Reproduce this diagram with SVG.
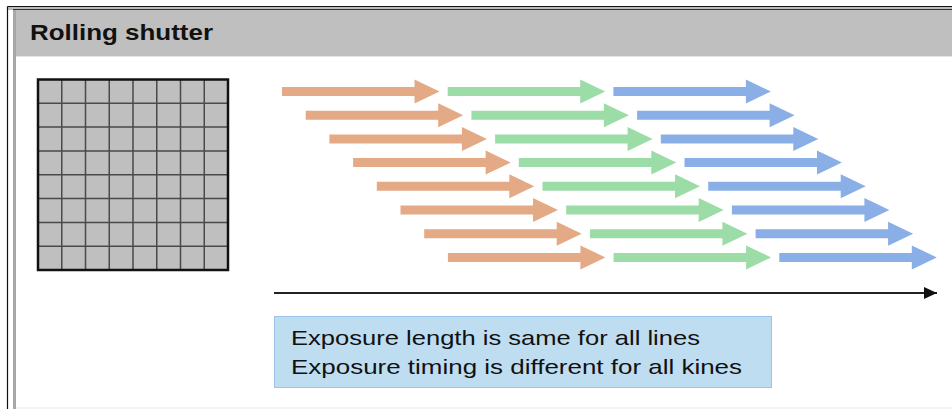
<svg xmlns="http://www.w3.org/2000/svg" width="952" height="409" viewBox="0 0 952 409">
<style>
.o{fill:#E4A985}.g{fill:#9CDCA6}.b{fill:#8AAEE6}
.t{font-family:"Liberation Sans",Arial,sans-serif;fill:#111}
</style>
<defs>
<path id="ar" d="M0,-4.5 H132.5 V-12 L157.5,0 L132.5,12 V4.5 H0 Z"/>
<marker id="ah" markerWidth="13" markerHeight="12" refX="13" refY="6" orient="auto" markerUnits="userSpaceOnUse"><path d="M0,0 L13,6 L0,12 Z" fill="#111"/></marker>
</defs>
<rect width="952" height="409" fill="#fff"/>
<g id="frame">
<rect x="8" y="7" width="944" height="3" fill="#bdbdbd"/>
<line x1="7.5" y1="6.5" x2="952" y2="6.5" stroke="#111" stroke-width="1.2"/>
<line x1="7.5" y1="6.5" x2="7.5" y2="409" stroke="#111" stroke-width="1.2"/>
<rect x="15" y="10" width="937" height="46" fill="#BFBFBF"/>
<line x1="13" y1="9.5" x2="952" y2="9.5" stroke="#333" stroke-width="1.2"/>
<rect x="13" y="10" width="3" height="399" fill="#A8A8A8"/>
<line x1="16" y1="56.5" x2="952" y2="56.5" stroke="#e4e4e4" stroke-width="1.2"/>
<line x1="16" y1="408" x2="952" y2="408" stroke="#e8e8e8" stroke-width="1.2"/>
<text class="t" x="30" y="39.5" font-size="22" font-weight="bold" textLength="183" lengthAdjust="spacingAndGlyphs">Rolling shutter</text>
</g>
<g id="sensor">
<rect x="38" y="79.5" width="190" height="190.5" fill="#BFBFBF"/>
<g stroke="#4a4a4a" stroke-width="1.5">
<path d="M61.75,79.5V270M85.5,79.5V270M109.25,79.5V270M133,79.5V270M156.75,79.5V270M180.5,79.5V270M204.25,79.5V270"/>
<path d="M38,103.3H228M38,127.1H228M38,150.9H228M38,174.8H228M38,198.6H228M38,222.4H228M38,246.2H228"/>
</g>
<rect x="38" y="79.5" width="190" height="190.5" fill="none" stroke="#111" stroke-width="2.5"/>
</g>
<g id="arrows">
<use href="#ar" class="o" x="282" y="91.5"/><use href="#ar" class="g" x="447.7" y="91.5"/><use href="#ar" class="b" x="613.4" y="91.5"/>
<use href="#ar" class="o" x="305.7" y="115.2"/><use href="#ar" class="g" x="471.4" y="115.2"/><use href="#ar" class="b" x="637.1" y="115.2"/>
<use href="#ar" class="o" x="329.4" y="138.9"/><use href="#ar" class="g" x="495.1" y="138.9"/><use href="#ar" class="b" x="660.8" y="138.9"/>
<use href="#ar" class="o" x="353.1" y="162.6"/><use href="#ar" class="g" x="518.8" y="162.6"/><use href="#ar" class="b" x="684.5" y="162.6"/>
<use href="#ar" class="o" x="376.8" y="186.3"/><use href="#ar" class="g" x="542.5" y="186.3"/><use href="#ar" class="b" x="708.2" y="186.3"/>
<use href="#ar" class="o" x="400.5" y="210"/><use href="#ar" class="g" x="566.2" y="210"/><use href="#ar" class="b" x="731.9" y="210"/>
<use href="#ar" class="o" x="424.2" y="233.7"/><use href="#ar" class="g" x="589.9" y="233.7"/><use href="#ar" class="b" x="755.6" y="233.7"/>
<use href="#ar" class="o" x="447.9" y="257.4"/><use href="#ar" class="g" x="613.6" y="257.4"/><use href="#ar" class="b" x="779.3" y="257.4"/>
</g>
<g id="connectors">
<line x1="274" y1="293" x2="937" y2="293" stroke="#222" stroke-width="2.2" marker-end="url(#ah)"/>
</g>
<g id="note">
<rect x="274.5" y="316.5" width="497" height="71" fill="#BFDDF1" stroke="#9CC3E8" stroke-width="1"/>
<text class="t" x="291" y="345" font-size="21" textLength="409" lengthAdjust="spacingAndGlyphs">Exposure length is same for all lines</text>
<text class="t" x="291" y="374" font-size="21" textLength="451" lengthAdjust="spacingAndGlyphs">Exposure timing is different for all kines</text>
</g>
</svg>
